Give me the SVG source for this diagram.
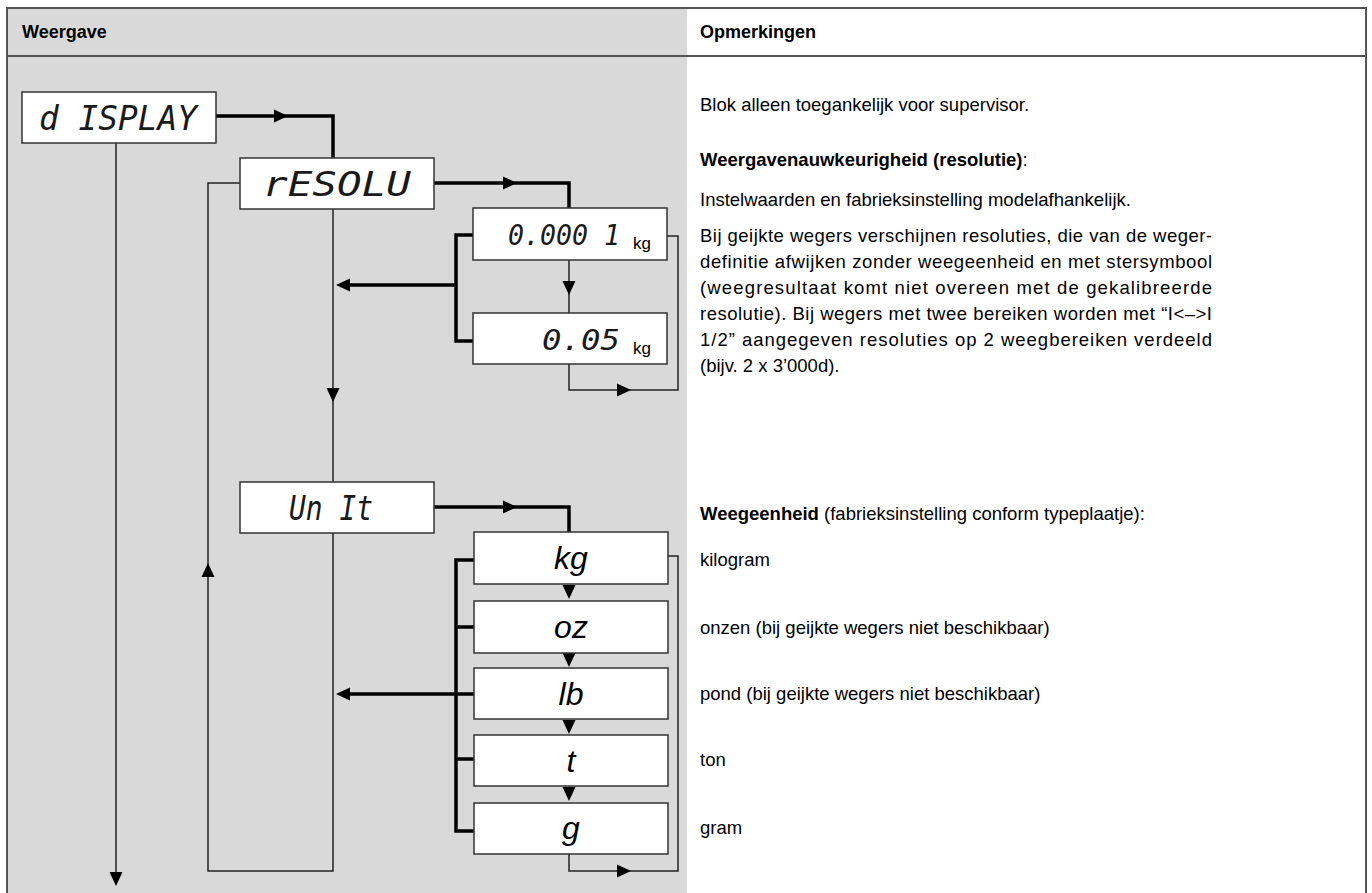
<svg xmlns="http://www.w3.org/2000/svg" xmlns:xlink="http://www.w3.org/1999/xlink" width="1372" height="893" viewBox="0 0 1372 893">
<style>
.frame{fill:none;stroke:#555;stroke-width:2}
.box{fill:#fff;stroke:#333;stroke-width:1.5}
.thick{fill:none;stroke:#000;stroke-width:3.5}
.thin{fill:none;stroke:#222;stroke-width:1.5}
.hdr{font-family:"Liberation Sans",Arial,sans-serif;font-weight:bold;font-size:18px;fill:#000}
.seg{font-family:"DejaVu Sans Mono",monospace;font-style:oblique;font-size:34px;fill:#1a1a1a}
.segs{font-family:"DejaVu Sans Mono",monospace;font-style:oblique;font-size:28px;fill:#1a1a1a}
.unit{font-family:"Liberation Sans",Arial,sans-serif;font-style:italic;font-size:32px;fill:#000;text-anchor:middle}
.sub{font-family:"Liberation Sans",Arial,sans-serif;font-size:17px;fill:#000}
.txt{font-family:"Liberation Sans",Arial,sans-serif;font-size:18.5px;fill:#000}
.b{font-weight:bold}
</style>
<defs>
<path id="tri" d="M-7,-6.5 L7,0 L-7,6.5 Z" fill="#000"/>
</defs>
<rect x="0" y="0" width="1372" height="893" fill="#fff"/>
<rect x="7" y="8" width="680" height="885" fill="#d9d9d9"/>
<rect x="687" y="8" width="679" height="48" fill="#fff"/>
<path class="frame" d="M7,893 V8 H1366 V893 M7,56 H1366"/>
<text class="hdr" x="22" y="38">Weergave</text>
<text class="hdr" x="700" y="38">Opmerkingen</text>

<g id="connectors">
<path class="thick" d="M216,116 H333 V158"/>
<use xlink:href="#tri" transform="translate(281,116)"/>
<path class="thin" d="M116,143 V878"/>
<use xlink:href="#tri" transform="translate(116,879) rotate(90)"/>
<path class="thin" d="M333,209 V482"/>
<use xlink:href="#tri" transform="translate(333,395) rotate(90)"/>
<path class="thin" d="M333,533 V871 H208 V183 H240"/>
<use xlink:href="#tri" transform="translate(208,570) rotate(-90)"/>
<path class="thick" d="M434,183 H569 V208"/>
<use xlink:href="#tri" transform="translate(510,183)"/>
<path class="thin" d="M569,260 V313"/>
<use xlink:href="#tri" transform="translate(569,288) rotate(90)"/>
<path class="thin" d="M667,236 H678 V390 H569 V364"/>
<use xlink:href="#tri" transform="translate(624,390)"/>
<path class="thick" d="M473,235 H456 V341 H473 M456,285 H345"/>
<use xlink:href="#tri" transform="translate(343,285) rotate(180)"/>
<path class="thick" d="M434,507 H569 V532"/>
<use xlink:href="#tri" transform="translate(510,507)"/>
<use xlink:href="#tri" transform="translate(569,592) rotate(90)"/>
<use xlink:href="#tri" transform="translate(569,660) rotate(90)"/>
<use xlink:href="#tri" transform="translate(569,727) rotate(90)"/>
<use xlink:href="#tri" transform="translate(569,794) rotate(90)"/>
<path class="thin" d="M668,556 H678 V871 H569 V854"/>
<use xlink:href="#tri" transform="translate(624,871)"/>
<path class="thick" d="M474,560 H456 V831 H474 M456,627 H474 M456,759 H474 M474,694 H345"/>
<use xlink:href="#tri" transform="translate(343,694) rotate(180)"/>
</g>

<g id="n-display"><rect class="box" x="22" y="92" width="194" height="51"/><text class="seg" x="118" y="130" text-anchor="middle" textLength="158" lengthAdjust="spacingAndGlyphs">d ISPLAY</text></g>
<g id="n-resolu"><rect class="box" x="240" y="158" width="194" height="51"/><text class="seg" x="337" y="196" text-anchor="middle" textLength="148" lengthAdjust="spacingAndGlyphs">rESOLU</text></g>
<g id="n-res1"><rect class="box" x="473" y="208" width="194" height="52"/><text class="segs" x="508" y="245" textLength="112" lengthAdjust="spacingAndGlyphs">0.000 1</text><text class="sub" x="633" y="249">kg</text></g>
<g id="n-res2"><rect class="box" x="473" y="313" width="194" height="51"/><text class="segs" x="542" y="350" textLength="78" lengthAdjust="spacingAndGlyphs">0.05</text><text class="sub" x="633" y="354">kg</text></g>
<g id="n-unit"><rect class="box" x="240" y="482" width="194" height="51"/><text class="seg" x="331" y="520" text-anchor="middle" textLength="84" lengthAdjust="spacingAndGlyphs">Un It</text></g>
<g id="n-kg"><rect class="box" x="474" y="532" width="194" height="52"/><text class="unit" x="571" y="569">kg</text></g>
<g id="n-oz"><rect class="box" x="474" y="601" width="194" height="52"/><text class="unit" x="571" y="638">oz</text></g>
<g id="n-lb"><rect class="box" x="474" y="668" width="194" height="51"/><text class="unit" x="571" y="705">lb</text></g>
<g id="n-t"><rect class="box" x="474" y="735" width="194" height="51"/><text class="unit" x="571" y="772">t</text></g>
<g id="n-g"><rect class="box" x="474" y="803" width="194" height="51"/><text class="unit" x="571" y="839">g</text></g>

<g id="remarks">
<text class="txt" x="700" y="111">Blok alleen toegankelijk voor supervisor.</text>
<text class="txt" x="700" y="166"><tspan class="b">Weergavenauwkeurigheid (resolutie)</tspan>:</text>
<text class="txt" x="700" y="206">Instelwaarden en fabrieksinstelling modelafhankelijk.</text>
<text class="txt" x="700" y="242" textLength="512" lengthAdjust="spacing">Bij geijkte wegers verschijnen resoluties, die van de weger-</text>
<text class="txt" x="700" y="268" textLength="512" lengthAdjust="spacing">definitie afwijken zonder weegeenheid en met stersymbool</text>
<text class="txt" x="700" y="294" textLength="512" lengthAdjust="spacing">(weegresultaat komt niet overeen met de gekalibreerde</text>
<text class="txt" x="700" y="320" textLength="512" lengthAdjust="spacing">resolutie). Bij wegers met twee bereiken worden met “I&lt;–&gt;I</text>
<text class="txt" x="700" y="346" textLength="512" lengthAdjust="spacing">1/2” aangegeven resoluties op 2 weegbereiken verdeeld</text>
<text class="txt" x="700" y="372">(bijv. 2 x 3’000d).</text>
<text class="txt" x="700" y="520"><tspan class="b">Weegeenheid</tspan> (fabrieksinstelling conform typeplaatje):</text>
<text class="txt" x="700" y="566">kilogram</text>
<text class="txt" x="700" y="634">onzen (bij geijkte wegers niet beschikbaar)</text>
<text class="txt" x="700" y="700">pond (bij geijkte wegers niet beschikbaar)</text>
<text class="txt" x="700" y="766">ton</text>
<text class="txt" x="700" y="834">gram</text>
</g>
</svg>
